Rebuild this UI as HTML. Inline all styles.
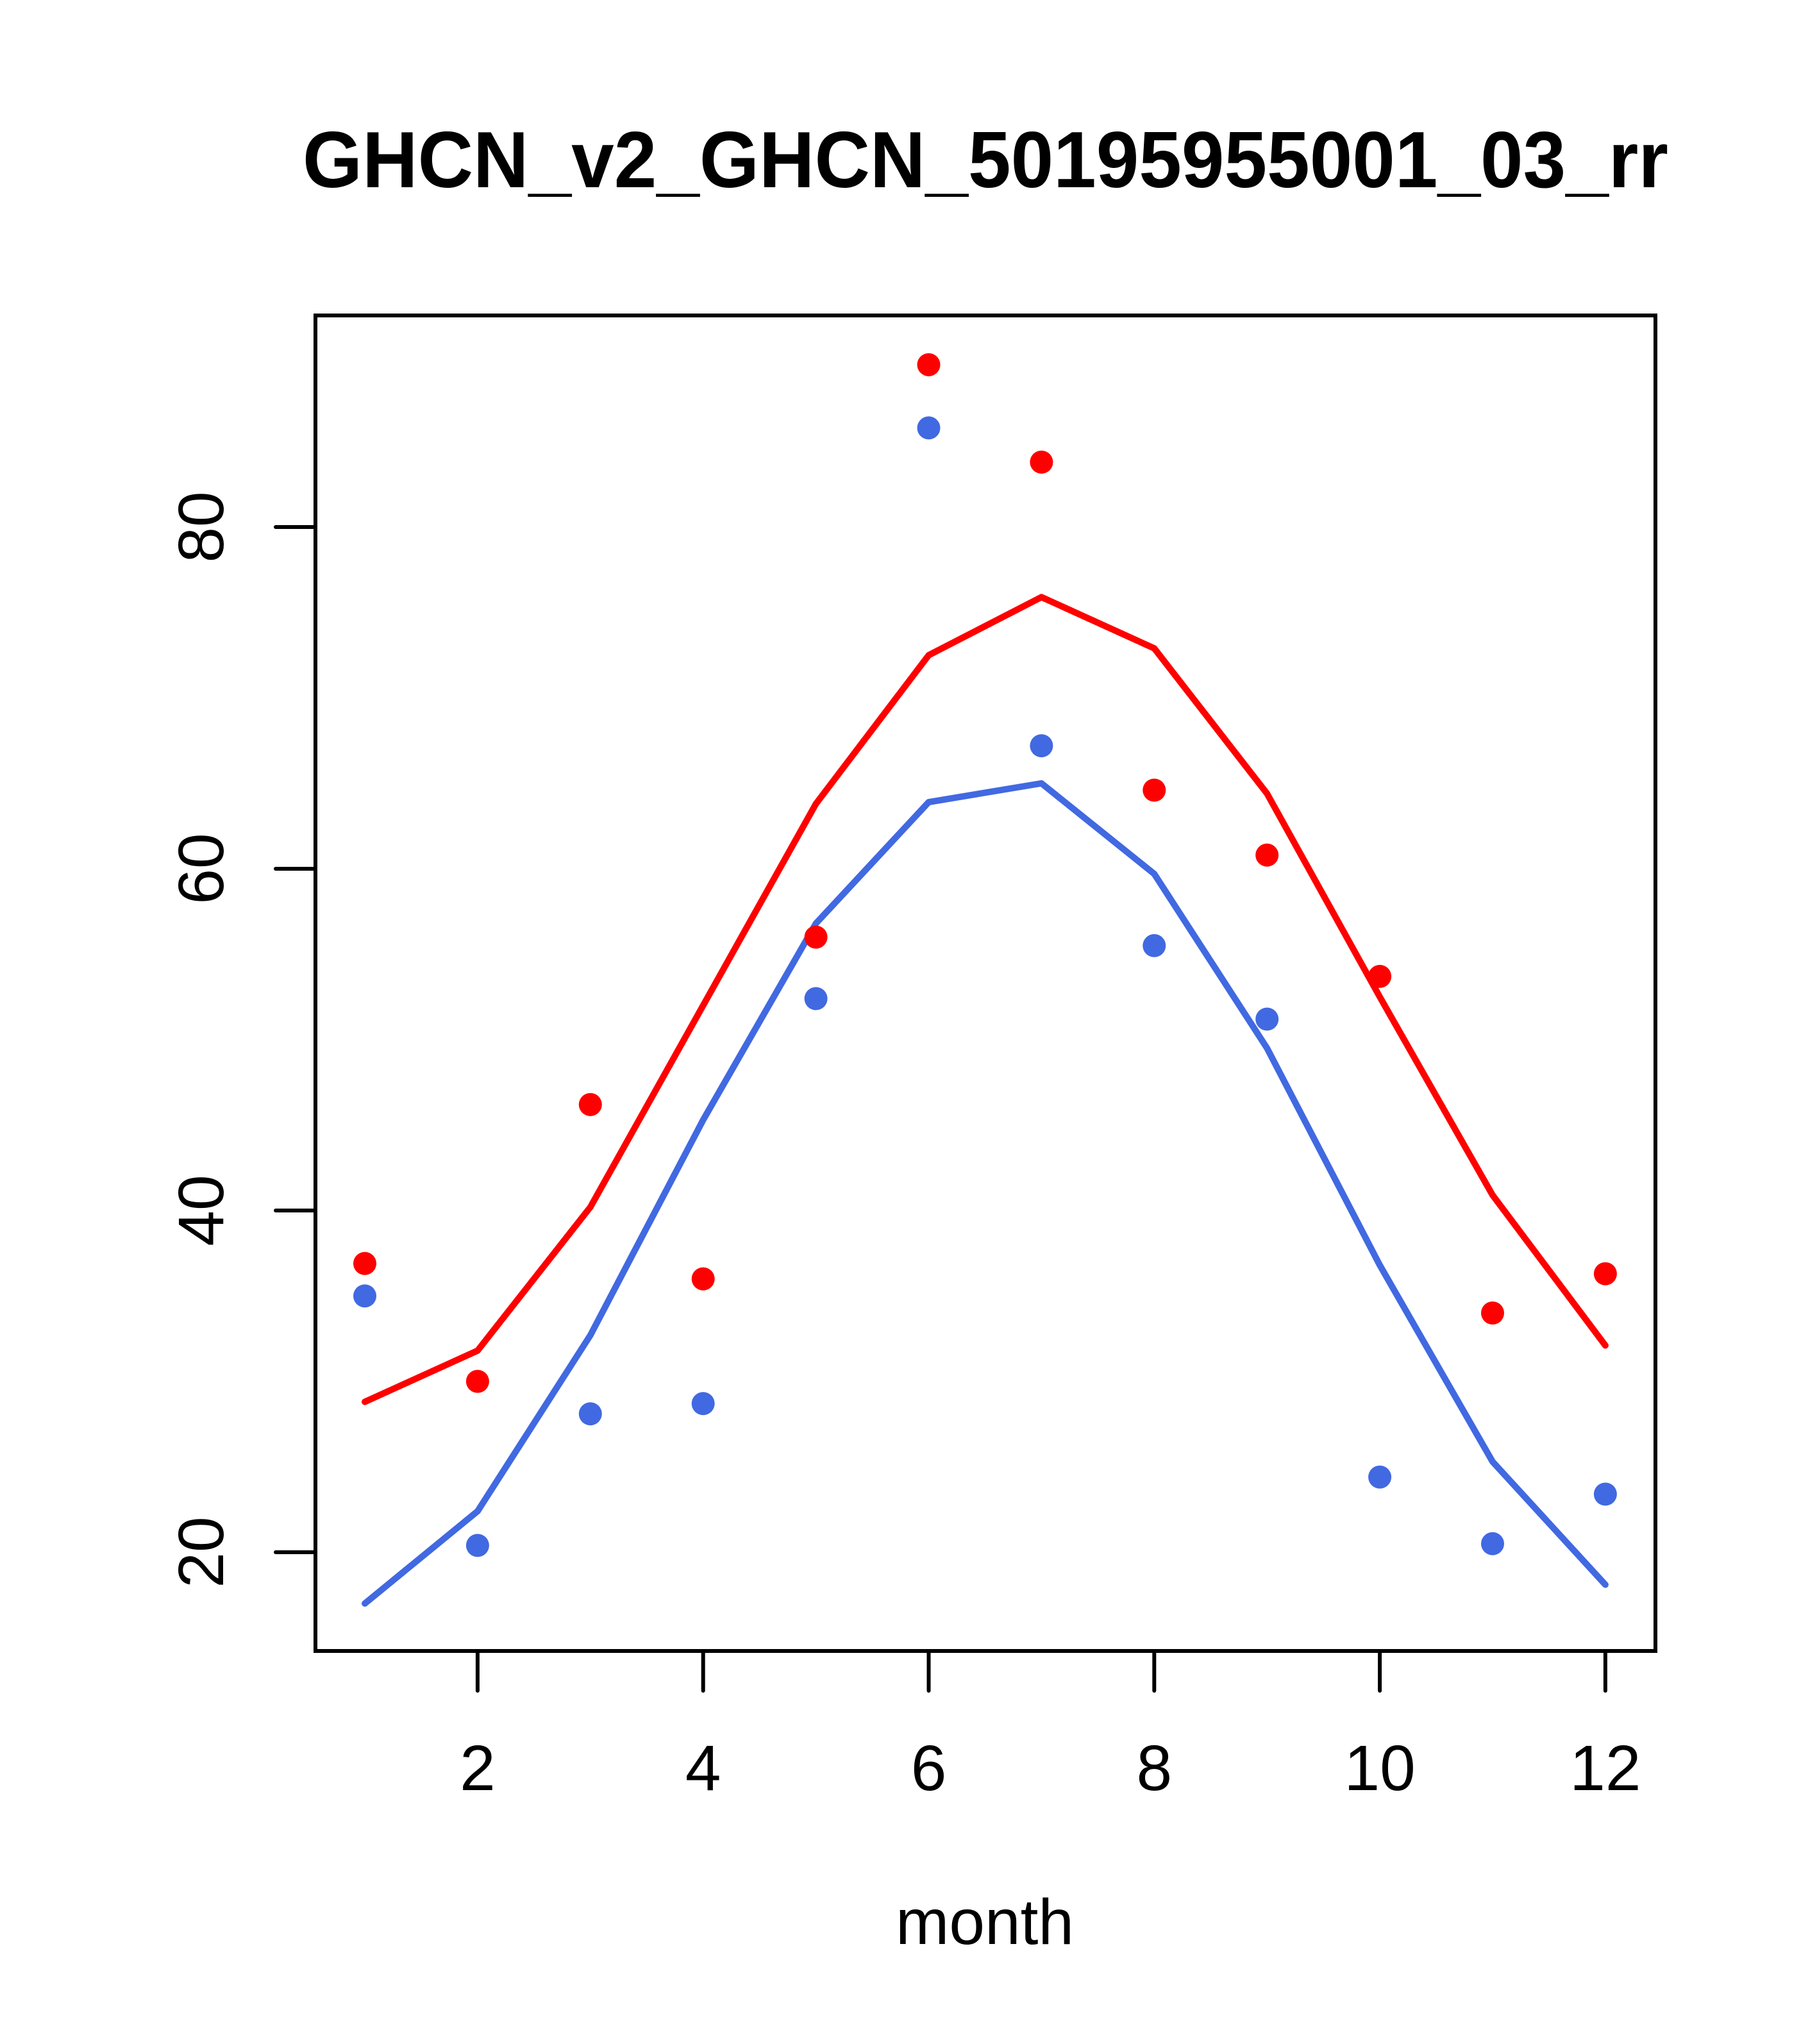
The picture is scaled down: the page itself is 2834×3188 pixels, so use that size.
<!DOCTYPE html>
<html><head><meta charset="utf-8"><style>html,body{margin:0;padding:0;background:#fff}svg{display:block}</style></head>
<body>
<svg id="chart" width="2834" height="3188" viewBox="0 0 2834 3188" xmlns="http://www.w3.org/2000/svg" font-family="'Liberation Sans', Arial, sans-serif">
<rect width="2834" height="3188" fill="#fff"/>
<text x="1537" y="292" text-anchor="middle" font-size="124" font-weight="bold" textLength="2130" lengthAdjust="spacingAndGlyphs">GHCN_v2_GHCN_50195955001_03_rr</text>
<g id="plot"></g>
<rect x="492" y="492" width="2090" height="2083" fill="none" stroke="#000" stroke-width="6"/>
<text x="1536" y="3032" text-anchor="middle" font-size="100">month</text>
</svg>
<script>
const months = [1,2,3,4,5,6,7,8,9,10,11,12];
const redPoints = [36.9,30.0,46.2,36.0,56.0,89.5,83.8,64.6,60.8,53.7,34.0,36.3];
const bluePoints = [35.0,20.4,28.1,28.7,52.4,85.8,67.2,55.5,51.2,24.4,20.5,23.4];
const redLine = [28.8,31.8,40.2,52.0,63.8,72.5,75.9,72.9,64.4,52.5,40.9,32.1];
const blueLine = [17.0,22.4,32.7,45.3,56.8,63.9,65.0,59.7,49.5,36.8,25.3,18.1];
const xTicks = [2,4,6,8,10,12];
const yTicks = [20,40,60,80];

const NS = 'http://www.w3.org/2000/svg';
const sx = v => 569 + (v - 1) * 175.9;
const sy = v => 822 + (80 - v) * 26.65;
const g = document.getElementById('plot');
function mk(tag, attrs) {
  const e = document.createElementNS(NS, tag);
  for (const k in attrs) e.setAttribute(k, attrs[k]);
  g.appendChild(e);
  return e;
}
function line(vals, color, name) {
  const p = mk('polyline', {points: vals.map((v, i) => sx(months[i]) + ',' + sy(v)).join(' '), fill: 'none', stroke: color, 'stroke-width': 10, 'stroke-linejoin': 'round', 'stroke-linecap': 'round'});
  
  
}
function pts(vals, color, name) {
  vals.forEach((v, i) => {
    const c = mk('circle', {cx: sx(months[i]), cy: sy(v), r: 18, fill: color});
    
    
  });
}
line(redLine, '#FF0000', 'red-line');
line(blueLine, '#4169E1', 'blue-line');
pts(redPoints, '#FF0000', 'red-point');
pts(bluePoints, '#4169E1', 'blue-point');
xTicks.forEach(t => {
  const l = mk('line', {x1: sx(t), x2: sx(t), y1: 2575, y2: 2637, stroke: '#000', 'stroke-width': 6, 'stroke-linecap': 'round'});
  
  
  const tx = mk('text', {x: sx(t), y: 2792, 'text-anchor': 'middle', 'font-size': 100});
  tx.textContent = t;
  
  
});
yTicks.forEach(t => {
  const l = mk('line', {x1: 430, x2: 492, y1: sy(t), y2: sy(t), stroke: '#000', 'stroke-width': 6, 'stroke-linecap': 'round'});
  
  
  const tx = mk('text', {x: 0, y: 0, 'text-anchor': 'middle', 'font-size': 100, transform: 'translate(348,' + sy(t) + ') rotate(-90)'});
  tx.textContent = t;
  
  
});
</script>
</body></html>
